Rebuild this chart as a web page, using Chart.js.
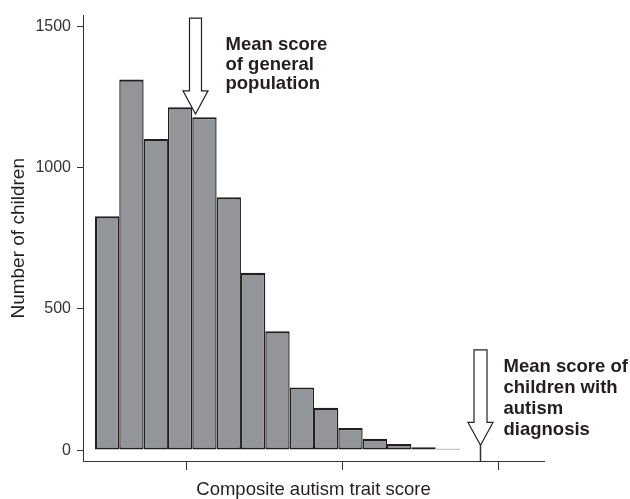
<!DOCTYPE html>
<html><head><meta charset="utf-8">
<script src="https://cdn.jsdelivr.net/npm/chart.js@4/dist/chart.umd.min.js"></script>
<style>html,body{margin:0;padding:0;background:#fff;}#wrap{width:630px;height:499px;}</style>
</head><body><div id="wrap"><canvas id="c" width="630" height="499"></canvas></div>
<script>
// Histogram bins (bin index units; bin centres)
const binCenters = [0.5, 1.5, 2.5, 3.5, 4.5, 5.5, 6.5, 7.5, 8.5, 9.5, 10.5, 11.5, 12.5, 13.5, 14.5];
const counts = [828, 1312, 1102, 1214, 1179, 895, 628, 421, 222, 150, 78, 40, 22, 10, 5];
const yTicks = [0, 500, 1000, 1500];
const xTicks = [3.78, 10.19, 16.6];
const meanGeneral = 4.11;
const meanAutism = 15.82;
const labelGeneral = ['Mean score', 'of general', 'population'];
const labelAutism = ['Mean score of', 'children with', 'autism', 'diagnosis'];
const xTitle = 'Composite autism trait score';
const yTitle = 'Number of children';

const FONT = "'Liberation Sans', Arial, Helvetica, sans-serif";
const INK = '#231f20';
const AXIS = '#333333';

function drawArrow(ctx, cx, yTop, yHead, yTip, shaftW, headW) {
  ctx.beginPath();
  ctx.moveTo(cx - shaftW / 2, yTop);
  ctx.lineTo(cx + shaftW / 2, yTop);
  ctx.lineTo(cx + shaftW / 2, yHead);
  ctx.lineTo(cx + headW / 2, yHead);
  ctx.lineTo(cx, yTip);
  ctx.lineTo(cx - headW / 2, yHead);
  ctx.lineTo(cx - shaftW / 2, yHead);
  ctx.closePath();
  ctx.fillStyle = '#ffffff';
  ctx.fill();
  ctx.strokeStyle = INK;
  ctx.lineWidth = 1.2;
  ctx.stroke();
}

const annotations = {
  id: 'annotations',
  afterDraw(chart) {
    const ctx = chart.ctx;
    const xs = chart.scales.x, ys = chart.scales.y;
    ctx.save();
    // general population arrow
    const gx = Math.round(xs.getPixelForValue(meanGeneral)) + 0.5;
    const gTop = ys.getPixelForValue(1530);
    drawArrow(ctx, gx, gTop, ys.getPixelForValue(1272), ys.getPixelForValue(1190), 12, 25);
    // autism arrow
    const ax = Math.round(xs.getPixelForValue(meanAutism)) + 0.5;
    const aTop = ys.getPixelForValue(355);
    const aTip = ys.getPixelForValue(17);
    ctx.beginPath();
    ctx.moveTo(ax, aTip);
    ctx.lineTo(ax, chart.chartArea.bottom);
    ctx.strokeStyle = AXIS;
    ctx.lineWidth = 1.5;
    ctx.stroke();
    drawArrow(ctx, ax, aTop, ys.getPixelForValue(98), aTip, 13, 25);
    // texts
    ctx.fillStyle = INK;
    ctx.font = 'bold 18.5px ' + FONT;
    ctx.textAlign = 'left';
    ctx.textBaseline = 'alphabetic';
    labelGeneral.forEach((t, i) => ctx.fillText(t, gx + 30, gTop + 32 + i * 19.5));
    labelAutism.forEach((t, i) => ctx.fillText(t, ax + 23, aTop + 22 + i * 21));
    ctx.restore();
  }
};

new Chart(document.getElementById('c'), {
  type: 'bar',
  data: {
    datasets: [{
      data: binCenters.map((x, i) => ({ x: x, y: counts[i] })),
      backgroundColor: '#939598',
      borderColor: INK,
      borderWidth: (c) => ({
        top: 2.2, bottom: 2,
        left: c.dataIndex === 0 ? 2.2 : 1.4,
        right: c.dataIndex === counts.length - 1 ? 2.2 : 1.4
      }),
      borderSkipped: false,
      inflateAmount: 0,
      barPercentage: 1,
      categoryPercentage: 1
    }]
  },
  options: {
    responsive: false,
    animation: false,
    devicePixelRatio: 1,
    layout: { padding: { top: 12, right: 86, left: 0, bottom: 0 } },
    plugins: { legend: { display: false }, tooltip: { enabled: false } },
    scales: {
      x: {
        type: 'linear',
        min: -0.49, max: 18.45,
        offset: false,
        afterBuildTicks: (s) => { s.ticks = xTicks.map(v => ({ value: v })); },
        ticks: { display: false },
        grid: { display: true, offset: false, drawOnChartArea: false, drawTicks: true, tickLength: 9, color: AXIS, lineWidth: 1 },
        border: { display: true, color: AXIS, width: 1 },
        title: { display: true, text: xTitle, color: INK, font: { family: FONT, size: 18.5 }, padding: { top: 0, bottom: -2 } },
        afterFit: (s) => { s.height = 38; }
      },
      y: {
        type: 'linear',
        min: -38.6, max: 1538.6,
        afterBuildTicks: (s) => { s.ticks = yTicks.map(v => ({ value: v })); },
        ticks: { color: AXIS, font: { family: FONT, size: 16 }, padding: 6, callback: (v) => String(v) },
        grid: { display: true, drawOnChartArea: false, drawTicks: true, tickLength: 6, color: AXIS, lineWidth: 1 },
        border: { display: true, color: AXIS, width: 1 },
        title: { display: true, text: yTitle, color: INK, font: { family: FONT, size: 19 }, padding: { top: 7, bottom: 0 } },
        afterFit: (s) => { s.width = 83; }
      }
    }
  },
  plugins: [annotations]
});
</script>
</body></html>
